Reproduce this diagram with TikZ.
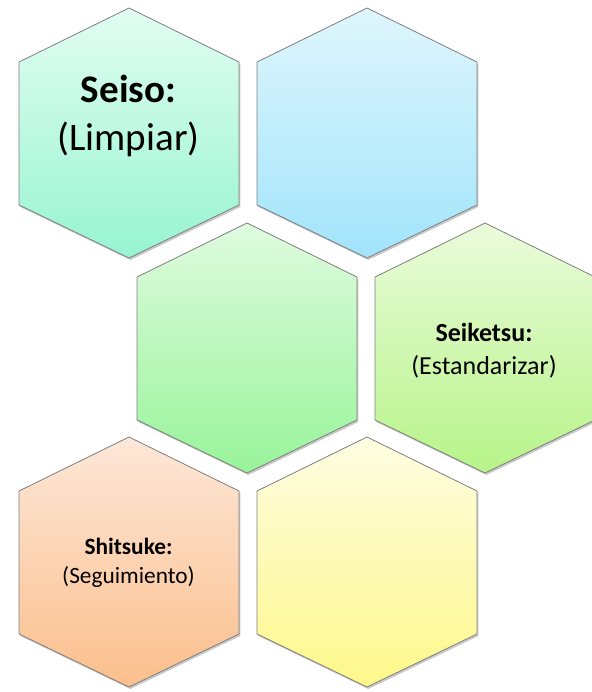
\documentclass[tikz,border=0pt]{standalone}
\usepackage{fontspec}
\setmainfont{Carlito}
\usepackage{xcolor}
\usepackage{tikz}
\usetikzlibrary{positioning, shadows}

\definecolor{seisotop}{HTML}{E2FDF2}
\definecolor{seisobot}{HTML}{97F4D3}
\definecolor{bluetop}{HTML}{DFF6FD}
\definecolor{bluebot}{HTML}{A2E4FB}
\definecolor{greentop}{HTML}{DFFBDF}
\definecolor{greenbot}{HTML}{98F49A}
\definecolor{seiketsutop}{HTML}{EAFBDB}
\definecolor{seiketsubot}{HTML}{B7F488}
\definecolor{shitsuketop}{HTML}{FDE7D8}
\definecolor{shitsukebot}{HTML}{FBBF8C}
\definecolor{yellowtop}{HTML}{FEFDE2}
\definecolor{yellowbot}{HTML}{FEF88A}
\definecolor{hexline}{HTML}{7F7F7F}

\tikzset{
  hexcell/.style={draw=hexline, line width=0.6pt, line join=miter,
    drop shadow={shadow xshift=1pt, shadow yshift=-1.5pt, opacity=0.3, fill=black!70}},
  hexlabel/.style={align=center, inner sep=0pt}
}

\begin{document}
\begin{tikzpicture}[x=0.75pt, y=-0.75pt]
        \useasboundingbox (0,0) rectangle (592,692);

        % Row 1
        \path[hexcell, top color=seisotop, bottom color=seisobot]
          (129,8) -- ++(110,54) -- ++(0,143) -- ++(-110,53) -- ++(-110,-53) -- ++(0,-143) -- cycle;
        \path[hexcell, top color=bluetop, bottom color=bluebot]
          (367,8) -- ++(110,54) -- ++(0,143) -- ++(-110,53) -- ++(-110,-53) -- ++(0,-143) -- cycle;

        % Row 2
        \path[hexcell, top color=greentop, bottom color=greenbot]
          (247,223) -- ++(110,54) -- ++(0,143) -- ++(-110,53) -- ++(-110,-53) -- ++(0,-143) -- cycle;
        \path[hexcell, top color=seiketsutop, bottom color=seiketsubot]
          (485,223) -- ++(110,54) -- ++(0,143) -- ++(-110,53) -- ++(-110,-53) -- ++(0,-143) -- cycle;

        % Row 3
        \path[hexcell, top color=shitsuketop, bottom color=shitsukebot]
          (129,437) -- ++(110,54) -- ++(0,143) -- ++(-110,53) -- ++(-110,-53) -- ++(0,-143) -- cycle;
        \path[hexcell, top color=yellowtop, bottom color=yellowbot]
          (367,437) -- ++(110,54) -- ++(0,143) -- ++(-110,53) -- ++(-110,-53) -- ++(0,-143) -- cycle;

        % Labels
        \node[hexlabel, font=\fontsize{29.3}{36}\selectfont] (seiso) at (128.5,116)
          {\textbf{Seiso:}\\(Limpiar)};
        \node[hexlabel, font=\fontsize{19.5}{24.75}\selectfont] (seiketsu) at (484,351)
          {\textbf{Seiketsu:}\\(Estandarizar)};
        \node[hexlabel, font=\fontsize{17.5}{21.75}\selectfont] (shitsuke) at (128.5,563)
          {\textbf{Shitsuke:}\\(Seguimiento)};
      \end{tikzpicture}
\end{document}
